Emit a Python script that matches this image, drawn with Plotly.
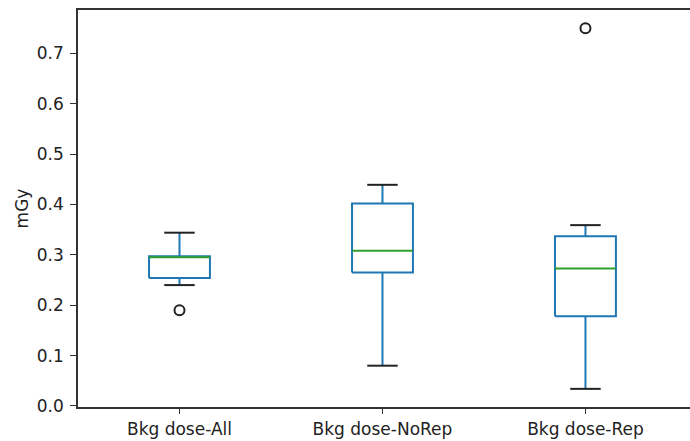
import plotly.graph_objects as go

# Summary statistics for each background-dose group (mGy)
categories = ["Bkg dose-All", "Bkg dose-NoRep", "Bkg dose-Rep"]
lower_whisker = [0.240, 0.080, 0.034]
q1 = [0.254, 0.265, 0.178]
median = [0.295, 0.308, 0.273]
q3 = [0.297, 0.402, 0.337]
upper_whisker = [0.344, 0.439, 0.359]
outliers = [[0.190], [], [0.750]]

y_ticks = [0.0, 0.1, 0.2, 0.3, 0.4, 0.5, 0.6, 0.7]

BOX_COLOR = "#1f77b4"
MEDIAN_COLOR = "#2ca02c"
CAP_COLOR = "#222222"
LW = 2
box_half = 0.15
cap_half = 0.075

fig = go.Figure()

for i, name in enumerate(categories):
    c = i + 1
    # box body
    fig.add_trace(go.Scatter(
        x=[c - box_half, c + box_half, c + box_half, c - box_half, c - box_half],
        y=[q1[i], q1[i], q3[i], q3[i], q1[i]],
        mode="lines", line=dict(color=BOX_COLOR, width=LW),
        hoverinfo="skip", showlegend=False))
    # whiskers
    fig.add_trace(go.Scatter(
        x=[c, c, None, c, c],
        y=[q1[i], lower_whisker[i], None, q3[i], upper_whisker[i]],
        mode="lines", line=dict(color=BOX_COLOR, width=LW),
        hoverinfo="skip", showlegend=False))
    # caps
    fig.add_trace(go.Scatter(
        x=[c - cap_half, c + cap_half, None, c - cap_half, c + cap_half],
        y=[lower_whisker[i], lower_whisker[i], None, upper_whisker[i], upper_whisker[i]],
        mode="lines", line=dict(color=CAP_COLOR, width=LW),
        hoverinfo="skip", showlegend=False))
    # median
    fig.add_trace(go.Scatter(
        x=[c - box_half, c + box_half],
        y=[median[i], median[i]],
        mode="lines", line=dict(color=MEDIAN_COLOR, width=LW),
        hoverinfo="skip", showlegend=False))
    # fliers
    if outliers[i]:
        fig.add_trace(go.Scatter(
            x=[c] * len(outliers[i]), y=outliers[i],
            mode="markers",
            marker=dict(symbol="circle-open", size=10, color=CAP_COLOR,
                        line=dict(width=2, color=CAP_COLOR)),
            hoverinfo="skip", showlegend=False))

font = dict(family="DejaVu Sans", size=17, color="#222222")

fig.update_layout(
    width=690, height=441,
    margin=dict(l=78, r=0, t=10, b=34),
    paper_bgcolor="white", plot_bgcolor="white",
    font=font,
    xaxis=dict(
        range=[0.5, 3.515],
        tickmode="array", tickvals=[1, 2, 3], ticktext=categories,
        showgrid=False, zeroline=False,
        showline=True, mirror=True, linecolor="#333333", linewidth=1.5,
        ticks="outside", ticklen=5, tickcolor="#333333",
        tickfont=font, ticklabelstandoff=1,
    ),
    yaxis=dict(
        range=[-0.002, 0.786],
        tickmode="array", tickvals=y_ticks,
        ticktext=[f"{v:.1f}" for v in y_ticks],
        showgrid=False, zeroline=False,
        showline=True, linecolor="#333333", linewidth=1.5,
        ticks="outside", ticklen=6, tickcolor="#333333",
        tickfont=font, ticklabelstandoff=3,
        title=dict(text="mGy", font=font, standoff=4),
    ),
)

fig.write_html("out.html")
